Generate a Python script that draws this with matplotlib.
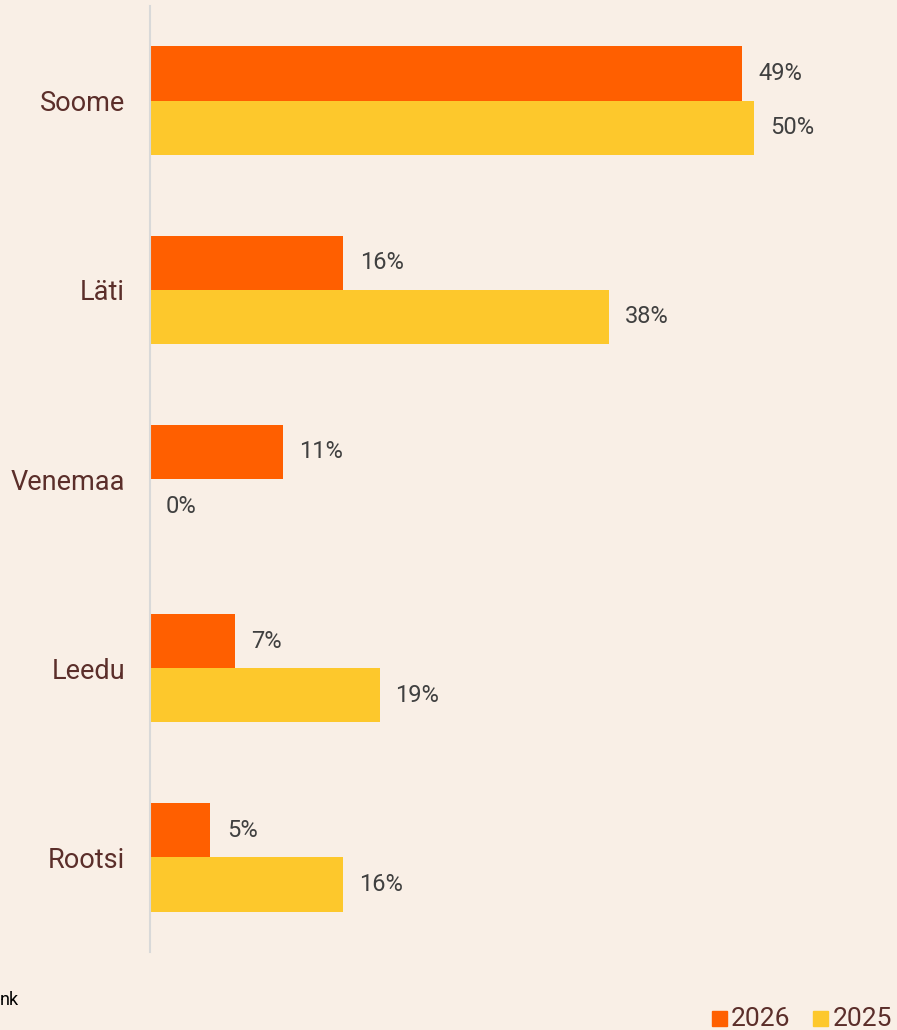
import matplotlib.pyplot as plt
import matplotlib.patches as patches
import numpy as np

plt.rcParams['font.family'] = ['Roboto', 'DejaVu Sans']

categories = ["Soome", "Läti", "Venemaa", "Leedu", "Rootsi"]
values_2026 = [49, 16, 11, 7, 5]
values_2025 = [50, 38, 0, 19, 16]
series_names = ["2026", "2025"]

bg = "#f9efe6"
c26 = "#ff5f00"
c25 = "#fdc82c"
label_col = "#5b2e2a"
value_col = "#404040"

fig = plt.figure(figsize=(8.97, 10.30), dpi=100, facecolor=bg)
ax = fig.add_axes([150 / 897, 78 / 1030, 725 / 897, 946 / 1030])
ax.set_facecolor(bg)

y = np.arange(len(categories))
h = 0.286
ax.barh(y - h / 2, values_2026, height=h, color=c26)
ax.barh(y + h / 2, values_2025, height=h, color=c25)

for i in range(len(categories)):
    ax.text(values_2026[i] + 1.35, y[i] - h / 2, f"{values_2026[i]}%", va='center', ha='left',
            fontsize=17, color=value_col)
    ax.text(values_2025[i] + 1.3, y[i] + h / 2, f"{values_2025[i]}%", va='center', ha='left',
            fontsize=17, color=value_col)

ax.set_xlim(0, 60)
ax.set_ylim(len(categories) - 0.5, -0.5)
ax.set_yticks(y)
ax.set_yticklabels(categories, fontsize=19.5, color=label_col)
ax.tick_params(axis='y', length=0, pad=18)
ax.set_xticks([])
for s in ['top', 'right', 'bottom']:
    ax.spines[s].set_visible(False)
ax.spines['left'].set_color('#d9d9d9')
ax.spines['left'].set_linewidth(1.5)

# legend drawn by hand in figure pixels
fig.add_artist(patches.Rectangle((712 / 897, 4 / 1030), 15 / 897, 15 / 1030, color=c26,
                                 transform=fig.transFigure))
fig.text(731 / 897, 11 / 1030, series_names[0], fontsize=19, color=label_col, va='center', ha='left')
fig.add_artist(patches.Rectangle((813 / 897, 4 / 1030), 15 / 897, 15 / 1030, color=c25,
                                 transform=fig.transFigure))
fig.text(833 / 897, 11 / 1030, series_names[1], fontsize=19, color=label_col, va='center', ha='left')

fig.text(0, 30 / 1030, "nk", fontsize=13, color='black', va='center', ha='left')

fig.savefig("out.png", dpi=100, facecolor=bg)
